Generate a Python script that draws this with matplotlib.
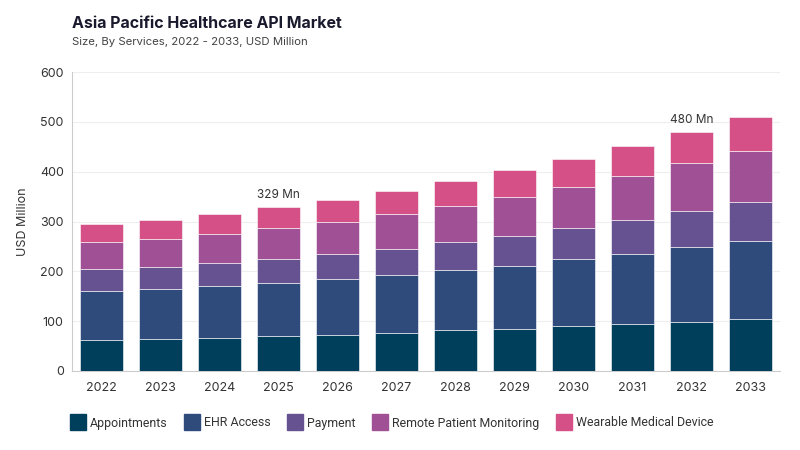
import numpy as np
import matplotlib.pyplot as plt

plt.rcParams['font.family'] = ['Inter', 'DejaVu Sans']

# data
years = ['2022', '2023', '2024', '2025', '2026', '2027', '2028', '2029', '2030', '2031', '2032', '2033']
appointments = [62, 65, 67, 70, 73, 77, 82, 85, 90, 94, 99, 105]
ehr_access = [99, 100, 104, 107, 112, 116, 120, 126, 134, 141, 149, 157]
payment = [43, 44, 46, 48, 50, 52, 57, 60, 64, 68, 73, 78]
remote_monitoring = [55, 56, 59, 62, 65, 70, 73, 79, 82, 88, 96, 101]
wearable = [36, 38, 39, 42, 44, 47, 50, 53, 56, 61, 63, 70]
annotated = {'2025': '329 Mn', '2032': '480 Mn'}

series = [
    ('Appointments', appointments, '#003f5c'),
    ('EHR Access', ehr_access, '#2f4b7c'),
    ('Payment', payment, '#665191'),
    ('Remote Patient Monitoring', remote_monitoring, '#a05195'),
    ('Wearable Medical Device', wearable, '#d45087'),
]

fig = plt.figure(figsize=(8, 4.5), dpi=100)
ax = fig.add_axes([0.09, 0.1756, 0.885, 0.664])

x = np.arange(len(years))
bottom = np.zeros(len(years))
for name, vals, col in series:
    ax.bar(x, vals, width=0.72, bottom=bottom, color=col, label=name,
           edgecolor='white', linewidth=0.4, zorder=3)
    bottom += np.array(vals)

for yr, txt in annotated.items():
    i = years.index(yr)
    ax.text(x[i], bottom[i] + 12, txt, ha='center', va='bottom', fontsize=8.5, color='#333333')

ax.set_xlim(-0.5, 11.5)
ax.set_ylim(0, 600)
ax.set_yticks(range(0, 601, 100))
ax.set_xticks(x)
ax.set_xticklabels(years)
ax.tick_params(axis='both', length=0, labelsize=9, colors='#333333')
ax.tick_params(axis='x', pad=8)
ax.tick_params(axis='y', pad=6)
ax.grid(axis='y', color='#eeeeee', linewidth=0.8, zorder=0)
for s in ['top', 'right']:
    ax.spines[s].set_visible(False)
for s in ['left', 'bottom']:
    ax.spines[s].set_color('#cccccc')
ax.set_ylabel('USD Million', fontsize=9, color='#333333', labelpad=8)

fig.text(0.09, 0.938, 'Asia Pacific Healthcare API Market', fontsize=11.5, fontweight='bold',
         color='#1a1a2e', ha='left', va='baseline')
fig.text(0.09, 0.9, 'Size, By Services, 2022 - 2033, USD Million', fontsize=8.2,
         color='#444444', ha='left', va='baseline')

handles = [plt.Line2D([0], [0], marker='s', linestyle='', markersize=11.5,
                      markerfacecolor=c, markeredgecolor=c) for _, _, c in series]
fig.legend(handles, [n for n, _, _ in series], loc='center left', bbox_to_anchor=(0.074, 0.06),
           ncol=5, frameon=False, prop={'family': ['Roboto', 'DejaVu Sans'], 'size': 8.9},
           handlelength=1.2, handletextpad=0.4, columnspacing=1.35, labelcolor='#333333')

fig.savefig('out.png', dpi=100)
